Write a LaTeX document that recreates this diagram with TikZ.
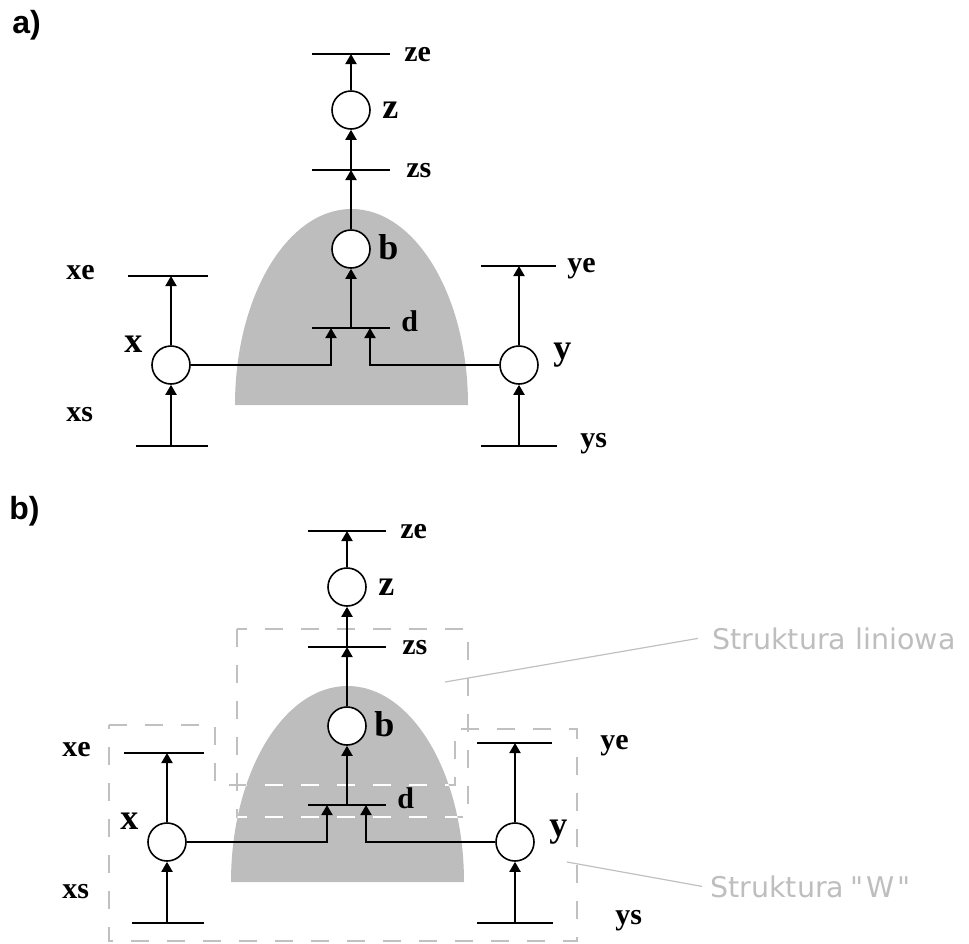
\documentclass[tikz,border=0pt]{standalone}
\usepackage{fontspec}
\setmainfont{Liberation Serif}
\newfontfamily\lblsans{Liberation Sans}
\newfontfamily\notesans{DejaVu Sans}
\usetikzlibrary{arrows.meta}
\definecolor{domegray}{RGB}{189,189,189}
\definecolor{boxgray}{RGB}{192,192,192}
\definecolor{notegray}{RGB}{190,190,190}
\tikzset{
  wire/.style={line width=1pt, black},
  arr/.style={wire, -{Triangle[width=5.5pt,length=5pt]}},
  bar/.style={inner sep=0pt, outer sep=0pt, minimum height=0pt},
  proc/.style={circle, draw, line width=0.8pt, fill=white, minimum size=19pt, inner sep=0pt},
  barlbl/.style={anchor=base west, inner sep=0pt, font=\bfseries\fontsize{15}{15}\selectfont},
  proclbl/.style={anchor=base west, inner sep=0pt, font=\bfseries\fontsize{18}{18}\selectfont},
  partlbl/.style={anchor=base west, inner sep=0pt, font=\lblsans\bfseries\fontsize{16}{16}\selectfont},
  dome/.style={fill=domegray},
  region/.style={draw=boxgray, line width=0.75pt, dash pattern=on 9pt off 9pt},
  regionw/.style={draw=white, line width=0.75pt, dash pattern=on 9pt off 9pt},
  note/.style={anchor=base west, inner sep=0pt, text=notegray, font=\notesans\fontsize{14.25}{14.25}\selectfont},
  pointer/.style={draw=boxgray, line width=0.6pt},
}
\newcommand\domepath{(231,882) arc[start angle=180,end angle=0,x radius=58.25pt,y radius=98pt] -- cycle}
\newcommand\linpath{(237,629) rectangle (468,817)}
\newcommand\wpath{(109,725) -- (215,725) -- (215,785) -- (455,785) -- (455,729) -- (577,729) -- (577,941) -- (109,941) -- cycle}
\newcommand\drawdome{\fill[dome] \domepath;}
\newcommand\drawsystem[3]{%
  \node[bar, minimum width=39pt] (#1ze) at (347,531) {};
  \node[bar, minimum width=39pt] (#1zs) at (347,647) {};
  \node[bar, minimum width=39pt] (#1d) at (347,805) {};
  \node[bar, minimum width=40pt] (#1xe) at (164,753) {};
  \node[bar, minimum width=36pt] (#1xs) at (168,923) {};
  \node[bar, minimum width=37.5pt] (#1ye) at (514.5,743) {};
  \node[bar, minimum width=38pt] (#1ys) at (515,923) {};
  \foreach \n in {ze,zs,d,xe,xs,ye,ys} {\draw[wire] (#1\n.west) -- (#1\n.east);}
  \node[proc] (#1z) at (347,587) {};
  \node[proc] (#1b) at (347,726) {};
  \node[proc] (#1x) at (167,842) {};
  \node[proc] (#1y) at (515,842) {};
  \draw[arr] (#1z.north) -- (#1ze);
  \draw[arr] (#1zs) -- (#1z.south);
  \draw[arr] (#1b.north) -- (#1zs);
  \draw[arr] (#1d) -- (#1b.south);
  \draw[arr] (#1x.east) -| ([xshift=-10pt]#1d.center);
  \draw[arr] (#1y.west) -| ([xshift=9.5pt]#1d.center);
  \draw[arr] (#1xs -| #1x) -- (#1x.south);
  \draw[arr] (#1x.north) -- (#1x.north |- #1xe);
  \draw[arr] (#1ys -| #1y) -- (#1y.south);
  \draw[arr] (#1y.north) -- (#1y.north |- #1ye);
  \node[barlbl] (#1zel) at (400,538) {ze};
  \node[barlbl] (#1zsl) at (402,654) {zs};
  \node[proclbl] (#1zl) at (378,595) {z};
  \node[proclbl] (#1bl) at (374,736) {b};
  \node[barlbl] (#1dl) at (397,808) {d};
  \node[proclbl] (#1xl) at (120,829) {x};
  \node[proclbl] (#1yl) at (549,836) {y};
  \node[barlbl] (#1xel) at (62,756) {xe};
  \node[barlbl] (#1xsl) at (62,898) {xs};
  \node[barlbl] (#1yel) at (#2,749) {ye};
  \node[barlbl] (#1ysl) at (#3,924) {ys};
}
\begin{document}
\begin{tikzpicture}[x=0.5pt,y=-0.5pt]
\useasboundingbox (0,0) rectangle (969,943);
% part a
\node[partlbl] (alabel) at (12,33) {a)};
\begin{scope}[shift={(4,-477)}]
  \drawdome
  \drawsystem{a}{563}{576}
\end{scope}
% part b
\node[partlbl] (blabel) at (9,519) {b)};
\drawdome
\draw[region] \linpath;
\draw[region] \wpath;
\begin{scope}
  \clip \domepath;
  \draw[regionw] \linpath;
  \draw[regionw] \wpath;
\end{scope}
\drawsystem{b}{600}{615}
\node[note] (lin) at (712,649) {Struktura liniowa};
\node[note] (wst) at (710,897) {Struktura\kern3pt"\kern1.5pt W\kern1.5pt"};
\coordinate (linp) at (445,682);
\coordinate (wp) at (567,862);
\draw[pointer] (linp) -- ([xshift=-7pt]lin.west);
\draw[pointer] (wp) -- ([xshift=-4pt]wst.west);
\end{tikzpicture}
\end{document}
